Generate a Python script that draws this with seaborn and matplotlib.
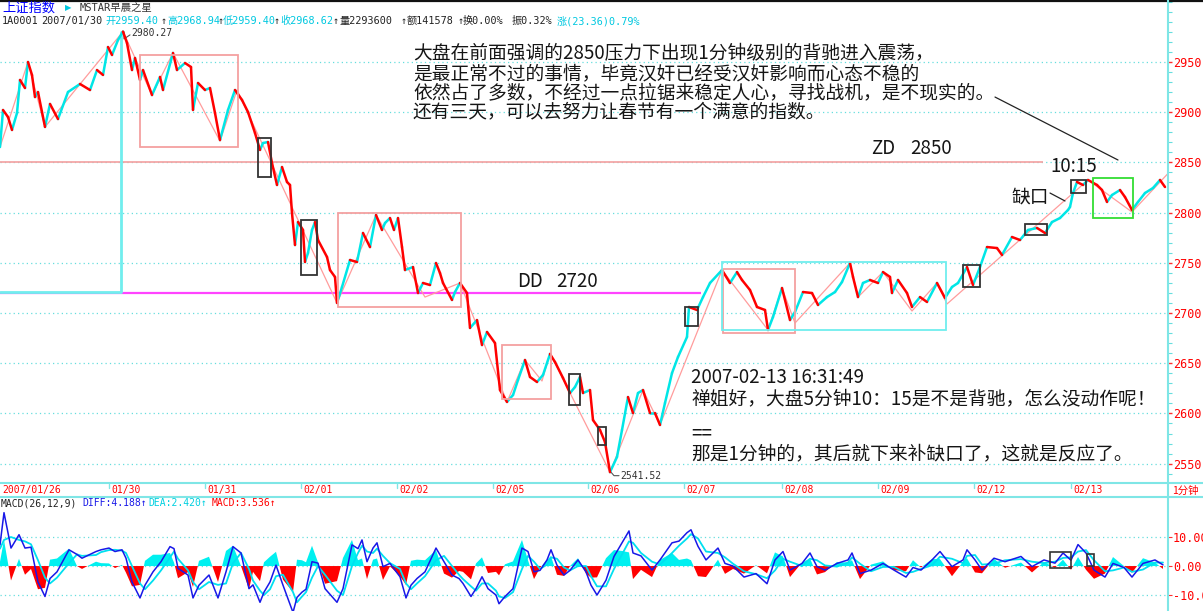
import matplotlib
matplotlib.use("Agg")
import matplotlib.pyplot as plt
from matplotlib.lines import Line2D
from matplotlib.patches import Rectangle
from matplotlib.ticker import MultipleLocator, FormatStrFormatter
import pandas as pd
import seaborn as sns

# ---- price path (1-minute bars, position index along the time axis) ----
price_t = [0, 3, 8, 12, 17, 20, 25, 28, 32, 35, 38, 45, 50, 58, 68, 80, 90, 97, 103, 108,
           112, 118, 123, 127, 132, 135, 140, 143, 152, 160, 163, 173, 177, 185, 191, 193, 198, 205, 210, 215,
           220, 228, 235, 242, 248, 255, 260, 263, 268, 272, 277, 282, 287, 290, 292, 295, 298, 303, 305, 308,
           312, 315, 318, 327, 330, 335, 337, 342, 350, 357, 363, 370, 376, 382, 385, 390, 394, 398, 402, 405,
           413, 418, 423, 430, 436, 440, 443, 452, 455, 460, 467, 470, 477, 482, 487, 495, 500, 507, 513, 518,
           525, 530, 537, 543, 550, 555, 563, 570, 575, 580, 583, 590, 593, 600, 605, 610, 617, 622, 628, 633,
           638, 643, 650, 655, 660, 665, 672, 678, 687, 689, 697, 703, 710, 722, 730, 737, 742, 750, 757, 765,
           768, 773, 782, 790, 795, 803, 812, 818, 827, 835, 842, 850, 853, 858, 863, 870, 878, 883, 890, 892,
           898, 907, 912, 920, 927, 937, 945, 952, 958, 967, 973, 980, 987, 997, 1002, 1012, 1020, 1028, 1037, 1045,
           1052, 1060, 1068, 1070, 1073, 1077, 1083, 1088, 1097, 1102, 1107, 1112, 1120, 1125, 1132, 1138, 1145, 1153, 1160, 1165]
price = [2865.3, 2902.2, 2895.2, 2882.3, 2899.2, 2932.1, 2924.1, 2950.0, 2937.0, 2915.1, 2920.1, 2885.3, 2908.2, 2893.2, 2920.1, 2928.1, 2922.1, 2942.0, 2937.1, 2964.9,
         2957.0, 2971.9, 2980.27, 2968.9, 2942.0, 2954.0, 2932.1, 2942.0, 2917.1, 2935.1, 2922.1, 2959.0, 2942.0, 2949.0, 2945.0, 2902.2, 2929.1, 2922.1, 2924.1, 2899.2,
         2872.3, 2902.2, 2922.1, 2912.2, 2900.2, 2879.3, 2862.4, 2869.3, 2870.3, 2849.4, 2827.5, 2845.4, 2830.5, 2827.5, 2799.6, 2767.7, 2790.6, 2782.7, 2750.8, 2759.8,
         2782.7, 2790.6, 2772.7, 2755.8, 2742.8, 2735.9, 2710.0, 2725.9, 2752.8, 2750.8, 2779.7, 2765.7, 2797.6, 2782.7, 2789.6, 2794.6, 2782.7, 2794.6, 2765.7, 2742.8,
         2745.8, 2719.9, 2729.9, 2727.9, 2749.8, 2739.8, 2729.9, 2713.0, 2720.9, 2729.9, 2719.9, 2685.1, 2693.0, 2668.1, 2681.1, 2670.1, 2623.3, 2611.4, 2618.3, 2633.3,
         2653.2, 2636.3, 2631.3, 2638.3, 2659.2, 2651.2, 2635.3, 2620.3, 2626.3, 2636.3, 2620.3, 2623.3, 2593.4, 2583.5, 2571.5, 2541.52, 2556.6, 2583.5, 2616.3, 2600.4,
         2620.3, 2623.3, 2600.4, 2600.4, 2588.5, 2610.4, 2640.2, 2656.2, 2676.1, 2706.0, 2703.0, 2715.9, 2729.9, 2742.8, 2729.9, 2740.8, 2732.9, 2722.9, 2706.0, 2703.0,
         2683.1, 2696.0, 2724.9, 2693.0, 2701.0, 2720.9, 2719.9, 2708.0, 2715.9, 2720.9, 2730.9, 2749.8, 2735.9, 2715.9, 2729.9, 2732.9, 2729.9, 2740.8, 2735.9, 2719.9,
         2732.9, 2719.9, 2706.0, 2715.9, 2711.0, 2729.9, 2715.0, 2725.9, 2729.9, 2745.8, 2727.9, 2745.8, 2765.7, 2764.7, 2757.8, 2775.7, 2772.7, 2782.7, 2784.7, 2779.7,
         2790.6, 2794.6, 2802.6, 2805.6, 2819.5, 2830.5, 2827.5, 2832.5, 2827.5, 2822.5, 2810.6, 2817.5, 2822.5, 2815.5, 2802.6, 2810.6, 2819.5, 2824.5, 2832.5, 2825.5]

# hand drawn zigzag (pink thin line)
zz_t = [0, 28, 45, 123, 152, 173, 220, 237, 337, 376, 425, 460, 507, 525, 542, 550, 610, 643, 660, 722,
        768, 782, 795, 850, 858, 883, 912, 937, 947, 1088, 1132, 1168]
zz_p = [2865.3, 2950.0, 2885.3, 2980.3, 2917.1, 2959.0, 2871.3, 2922.1, 2710.0, 2797.6, 2715.9, 2729.9, 2611.4, 2653.2, 2632.3, 2660.0, 2541.5, 2623.3, 2588.5, 2742.8,
        2683.1, 2724.9, 2690.0, 2749.8, 2715.9, 2740.8, 2702.0, 2729.9, 2709.0, 2832.5, 2800.6, 2839.0]

# boxes: (t0, t1, low, high, colour)
boxes = [(140, 238, 2865.3, 2957.0, "#f4a0a0"), (338, 461, 2706.0, 2799.6, "#f4a0a0"),
         (502, 551, 2614.3, 2668.1, "#f4a0a0"), (723, 795, 2680.1, 2743.8, "#f4a0a0"),
         (722, 946, 2683.1, 2750.8, "#70eeee"),
         (258, 271, 2835.5, 2874.3, "#333333"), (301, 317, 2737.9, 2792.6, "#333333"),
         (569, 580, 2608.4, 2639.2, "#333333"), (598, 606, 2568.5, 2586.5, "#333333"),
         (685, 698, 2687.1, 2706.0, "#333333"), (963, 980, 2725.9, 2747.8, "#333333"),
         (1025, 1047, 2777.7, 2788.6, "#333333"), (1071, 1086, 2819.5, 2832.5, "#333333"),
         (1093, 1133, 2794.6, 2834.5, "#33dd33")]

price_levels = [2550, 2600, 2650, 2700, 2750, 2800, 2850, 2900, 2950]
date_t = [1, 110, 206, 302, 398, 494, 589, 685, 783, 879, 975, 1072]
date_labels = ["2007/01/26", "01/30", "01/31", "02/01", "02/02", "02/05", "02/06", "02/07",
               "02/08", "02/09", "02/12", "02/13"]

# ---- MACD(26,12,9) ----
macd_t = [0, 4, 11, 19, 25, 31, 38, 45, 50, 57, 69, 77, 82, 96, 101, 109, 115, 122, 126, 132,
          140, 145, 153, 161, 170, 174, 178, 188, 193, 199, 209, 218, 226, 233, 241, 249, 253, 260, 264, 270,
          276, 283, 293, 297, 302, 306, 312, 318, 325, 337, 343, 352, 358, 362, 367, 373, 377, 383, 390, 400,
          406, 411, 417, 425, 436, 444, 452, 459, 463, 471, 476, 482, 488, 496, 499, 505, 513, 522, 528, 534,
          540, 547, 551, 557, 564, 570, 578, 586, 591, 597, 606, 614, 622, 629, 633, 641, 652, 660, 672, 679,
          687, 691, 698, 706, 718, 725, 733, 744, 756, 767, 775, 783, 790, 802, 810, 817, 825, 837, 848, 852,
          860, 871, 883, 894, 906, 913, 921, 932, 940, 952, 963, 967, 975, 982, 994, 1005, 1021, 1032, 1044, 1055,
          1063, 1071, 1078, 1086, 1094, 1105, 1113, 1124, 1132, 1143, 1155, 1163]
diff = [7.3, 18.4, 6.2, 10.8, 6.2, 6.5, -5.5, -10.5, -4.3, -2.0, 5.6, 4.0, 2.7, 5.0, 5.6, 6.2, 5.0, 5.6, 2.7, -5.5,
        -11.0, -6.6, -2.0, 1.5, 6.7, 6.0, -0.8, -3.1, -11.0, -6.6, -3.1, -11.0, -2.0, 6.7, 4.5, -7.8, -6.5, -12.5, -9.0, -5.5,
        0.3, -6.6, -16.0, -10.8, -9.0, -8.0, 1.5, 1.0, -7.8, -12.5, -7.8, 7.3, 6.0, 9.0, 1.5, 6.2, 8.0, -0.2, 0.9, -3.7,
        -11.0, -6.6, -4.3, -2.0, 6.2, 1.5, -3.1, -4.3, -6.0, -10.5, -7.8, -3.7, -7.8, -10.0, -13.0, -10.5, -7.8, 6.2, 5.0, -2.0,
        -1.5, 2.1, 5.6, 0.3, -3.1, -1.5, 2.1, -2.0, -6.6, -10.0, -4.9, 3.3, 8.0, 12.1, 4.5, 3.5, -1.4, 2.1, 8.0, 8.6,
        11.5, 12.5, 6.8, 2.1, 6.2, 0.9, 0.0, -3.8, -2.6, -6.1, 2.1, 5.0, -1.4, 0.9, 4.5, -0.2, -1.4, 0.9, 2.1, 4.5,
        -2.6, -1.4, 0.9, -1.4, -3.8, -0.5, -1.4, 2.1, 5.0, -0.2, 2.1, 5.6, 2.1, -1.4, 2.7, 1.5, 3.3, -0.2, 2.1, 1.0,
        4.5, 2.0, 7.4, 4.5, -1.4, -3.8, 0.9, -0.5, -3.8, 0.9, 2.1, 0.4]
dea = [6.0, 9.0, 10.0, 9.0, 8.5, 7.5, 2.0, -4.0, -6.0, -4.0, 1.0, 4.0, 3.5, 3.8, 4.8, 5.5, 5.6, 5.3, 4.5, 0.0,
       -6.0, -8.0, -5.0, -1.5, 3.0, 5.0, 2.5, -1.5, -5.5, -8.0, -5.5, -6.5, -6.0, 1.0, 4.5, -1.0, -5.0, -8.5, -10.0, -8.0,
       -3.5, -3.0, -9.0, -12.5, -10.5, -9.0, -4.0, 0.0, -3.0, -8.5, -10.0, 0.0, 4.5, 7.0, 5.0, 4.5, 6.0, 3.5, 1.0, -1.0,
       -6.0, -8.0, -6.0, -3.5, 2.0, 3.5, 0.0, -3.0, -4.5, -7.0, -8.5, -6.0, -6.0, -8.5, -10.5, -11.0, -9.0, -1.0, 3.5, 1.5,
       -1.0, 0.5, 3.0, 2.5, -0.5, -1.5, 0.0, 0.0, -3.5, -7.0, -7.0, -1.0, 4.0, 8.5, 8.0, 4.5, 1.5, 0.5, 4.5, 7.0,
       9.5, 11.0, 9.5, 5.0, 4.5, 3.0, 0.8, -1.8, -2.8, -4.2, -1.5, 2.5, 1.5, 0.0, 2.5, 2.0, 0.2, -0.2, 1.2, 3.0,
       0.8, -1.8, -0.3, -0.3, -2.4, -2.0, -1.0, 0.3, 3.2, 2.5, 1.0, 3.5, 3.8, 0.5, 0.8, 2.0, 2.4, 1.5, 1.0, 1.5,
       2.8, 3.0, 5.0, 5.5, 2.0, -1.8, -1.5, -0.5, -2.0, -1.2, 1.2, 1.2]
macd_bar = [1.5, 9.0, -5.0, 2.5, -3.0, -1.0, -8.0, -7.5, 2.2, 2.6, 6.0, 0.0, -1.0, 1.5, 1.0, 0.9, -0.7, 0.4, -2.3, -7.0,
            -6.5, 1.8, 3.9, 3.9, 4.5, 1.2, -4.2, -2.1, -7.2, 1.8, 3.2, -5.5, 5.2, 7.0, 0.0, -8.0, -2.0, -5.2, 1.3, 3.2,
            4.9, -4.7, -9.0, 2.2, 2.0, 1.3, 7.0, 1.3, -6.1, -5.2, 2.8, 9.0, 2.0, 2.6, -4.5, 2.2, 2.6, -4.8, -0.1, -3.5,
            -6.5, 1.8, 2.2, 2.0, 5.5, -2.6, -4.0, -1.7, -2.0, -4.6, 0.9, 3.0, -2.4, -2.0, -3.2, 0.6, 1.6, 9.0, 2.0, -4.5,
            -0.6, 2.1, 3.4, -3.0, -3.4, 0.0, 2.7, -2.6, -4.0, -3.9, 2.7, 5.5, 5.2, 4.7, -4.5, -1.3, -3.8, 2.1, 4.5, 2.1,
            2.6, 2.0, -3.5, -3.8, 2.2, -2.7, -1.0, -2.6, 0.3, -2.5, 4.7, 3.3, -3.8, 1.2, 2.6, -2.9, -2.1, 1.4, 1.2, 2.0,
            -4.5, 0.5, 1.6, -1.4, -1.8, 2.0, -0.5, 2.4, 2.4, -3.5, 1.4, 2.7, -2.2, -2.5, 2.5, -0.6, 1.2, -2.2, 1.4, -0.6,
            2.2, -1.3, 3.1, -1.3, -4.4, -2.6, 3.1, 0.0, -2.3, 2.7, 1.2, -1.0]
macd_boxes = [(1050, 1071, -0.7, 4.8), (1087, 1094, 0.0, 4.1)]

W, H = 1203, 611
CJK = ["Noto Sans CJK SC", "DejaVu Sans"]
MONO = ["DejaVu Sans Mono", "Noto Sans CJK SC"]

sns.set_style("white")
plt.rcParams["font.family"] = ["DejaVu Sans", "Noto Sans CJK SC"]
plt.rcParams["axes.unicode_minus"] = False

fig = plt.figure(figsize=(W / 100, H / 100), dpi=100)
ax = fig.add_axes([0, 1 - 483 / H, 1168 / W, 483 / H])
axm = fig.add_axes([0, 0, 1168 / W, 114 / H])


def ftxt(x, y, s, **kw):
    kw.setdefault("va", "center")
    kw.setdefault("ha", "left")
    fig.text(x / W, 1 - y / H, s, **kw)


def fline(xs, ys, **kw):
    fig.add_artist(Line2D([x / W for x in xs], [1 - y / H for y in ys], **kw))


# ---- main price panel ----
ax.hlines(price_levels, 0, 1168, colors="#66dede", linestyles=(0, (1, 2.5)), lw=0.9, zorder=0)
ax.hlines(2850, 0, 1043, colors="#f4a0a0", lw=1.2, zorder=1)
ax.hlines(2720, 0, 701, colors="#ff44ff", lw=1.6, zorder=1)
ax.plot([121, 121, 0], [2980, 2720.9, 2720.9], color="#70eeee", lw=2, zorder=1)

sns.lineplot(x=zz_t, y=zz_p, sort=False, estimator=None, color="#ff9c9c", lw=0.9, ax=ax, zorder=2)

rows = []
for i in range(len(price) - 1):
    d = "up" if price[i + 1] >= price[i] else "down"
    rows.append((i, d, price_t[i], price[i]))
    rows.append((i, d, price_t[i + 1], price[i + 1]))
seg = pd.DataFrame(rows, columns=["seg", "dir", "t", "p"])
sns.lineplot(data=seg, x="t", y="p", hue="dir", units="seg", estimator=None, sort=False,
             palette={"up": "#00e6e6", "down": "#ff0000"}, lw=1.8, legend=False, ax=ax, zorder=3)

for t0, t1, lo, hi, c in boxes:
    ax.add_patch(Rectangle((t0, lo), t1 - t0, hi - lo, fill=False, ec=c, lw=1.3, zorder=4))

# leader lines
ax.plot([995, 1118], [2915.1, 2852.4], color="#222222", lw=0.9)
ax.plot([1050, 1065], [2819.5, 2811.6], color="#222222", lw=0.9)
ax.plot([124, 124, 130], [2980, 2973, 2977], color="#555555", lw=0.8)
ax.plot([611, 614, 619], [2541.5, 2538.0, 2538.0], color="#555555", lw=0.8)

ax.set_xlim(0, 1168)
ax.set_ylim(2530.7, 3011.75)
ax.set_xlabel("")
ax.set_ylabel("")
ax.set_xticks([])
for s in ax.spines.values():
    s.set_visible(False)
ax.set_yticks(price_levels)
ax.yaxis.set_major_formatter(FormatStrFormatter("%.2f"))
ax.yaxis.set_minor_locator(MultipleLocator(10))
ax.tick_params(axis="y", which="major", left=False, labelleft=False, right=True, labelright=True,
               direction="out", length=3, width=1, color="#ff3030", labelcolor="#ff0000",
               labelsize=8.5, pad=0.5)
ax.tick_params(axis="y", which="minor", left=False, right=True, direction="out",
               length=3, width=0.8, color="#66dede")
for lb in ax.get_yticklabels():
    lb.set_fontfamily("DejaVu Sans Mono")

# ---- MACD panel ----
axm.hlines([-10, 0, 10], 0, 1168, colors="#66dede", linestyles=(0, (1, 2.5)), lw=0.9, zorder=0)
axm.fill_between(macd_t, macd_bar, 0, where=[v >= 0 for v in macd_bar], interpolate=True,
                 color="#00f0f0", lw=0, zorder=1)
axm.fill_between(macd_t, macd_bar, 0, where=[v < 0 for v in macd_bar], interpolate=True,
                 color="#ff0000", lw=0, zorder=1)
sns.lineplot(x=macd_t, y=dea, sort=False, estimator=None, color="#00e0f0", lw=1.3, ax=axm, zorder=2)
sns.lineplot(x=macd_t, y=diff, sort=False, estimator=None, color="#1818e8", lw=1.1, ax=axm, zorder=3)
for t0, t1, lo, hi in macd_boxes:
    axm.add_patch(Rectangle((t0, lo), t1 - t0, hi - lo, fill=False, ec="#333333", lw=1.2, zorder=4))
axm.set_xlim(0, 1168)
axm.set_ylim(-15.5, 23.8)
axm.set_xlabel("")
axm.set_ylabel("")
axm.set_xticks([])
for s in axm.spines.values():
    s.set_visible(False)
axm.set_yticks([-10, 0, 10])
axm.yaxis.set_major_formatter(FormatStrFormatter("%.2f"))
axm.tick_params(axis="y", left=False, labelleft=False, right=True, labelright=True, direction="out",
                length=3, color="#ff3030", labelcolor="#ff0000", labelsize=8.5, pad=0.5)
for lb in axm.get_yticklabels():
    lb.set_fontfamily("DejaVu Sans Mono")

# ---- frame lines ----
fline([0, W], [0.8, 0.8], color="#111111", lw=1.6)
fline([1168, 1168], [0, H], color="#7fe6e6", lw=1.5)
fline([0, W], [483, 483], color="#7fe6e6", lw=1.5)
fline([0, W], [497, 497], color="#7fe6e6", lw=1.5)

# date strip
for t, lab in zip(date_t, date_labels):
    ftxt(t + 1, 490.5, lab, color="#ff0000", fontsize=7, family=MONO)
    if t > 5:
        fline([t - 1, t - 1], [484, 488], color="#7fe6e6", lw=1)
ftxt(1172, 490.5, "1分钟", color="#ff0000", fontsize=7.5, family=CJK)

# header
ftxt(2, 8, "上证指数", color="#0000ff", fontsize=9.5, family=CJK)
ftxt(65, 8, "▶", color="#00c8e0", fontsize=6, family=["DejaVu Sans"])
ftxt(80, 8, "MSTAR早晨之星", color="#333333", fontsize=7.5, family=MONO)
header = [(2, "1A0001", "#222222"), (41, "2007/01/30", "#222222"),
          (105, "开2959.40", "#00c8e0"), (161, "↑", "#222222"),
          (167, "高2968.94", "#00c8e0"), (218, "↑", "#222222"),
          (223, "低2959.40", "#00c8e0"), (274, "↑", "#222222"),
          (280, "收2968.62", "#00c8e0"), (333, "↑", "#222222"),
          (340, "量2293600", "#222222"), (401, "↑", "#222222"),
          (407, "额141578", "#222222"), (458, "↑", "#222222"),
          (463, "换0.00%", "#222222"), (512, "振0.32%", "#222222"),
          (557, "涨(23.36)0.79%", "#00c8e0")]
for x, s, c in header:
    ftxt(x, 21, s, color=c, fontsize=7.3, family=MONO)

# MACD header
macd_head = [(1, "MACD(26,12,9)", "#222222"), (82, "DIFF:4.188↑", "#1818e8"),
             (148, "DEA:2.420↑", "#00d0e0"), (212, "MACD:3.536↑", "#ff0000")]
for x, s, c in macd_head:
    ftxt(x, 503.5, s, color=c, fontsize=7, family=MONO)

# value labels
ftxt(131, 32.5, "2980.27", color="#333333", fontsize=7, family=MONO)
ftxt(620, 476, "2541.52", color="#333333", fontsize=7, family=MONO)

# annotations
TXT = dict(color="#151515", fontsize=13.5, family=CJK)
notes = ["大盘在前面强调的2850压力下出现1分钟级别的背驰进入震荡，",
         "是最正常不过的事情，毕竟汉奸已经受汉奸影响而心态不稳的",
         "依然占了多数，不经过一点拉锯来稳定人心，寻找战机，是不现实的。",
         "还有三天，可以去努力让春节有一个满意的指数。"]
for k, line in enumerate(notes):
    ftxt(413, 54 + k * 19.3, line, **TXT)

reply = [(377.5, "2007-02-13 16:31:49"), (398.5, "禅姐好，大盘5分钟10：15是不是背驰，怎么没动作呢！"),
         (434, "=="), (453.5, "那是1分钟的，其后就下来补缺口了，这就是反应了。")]
for y, line in reply:
    ftxt(691, y, line, **TXT)

ftxt(871, 148, "ZD", **TXT)
ftxt(910, 148, "2850", **TXT)
ftxt(517, 281.5, "DD", **TXT)
ftxt(556, 281.5, "2720", **TXT)
ftxt(1050, 167, "10:15", **TXT)
ftxt(1011, 197.5, "缺口", **TXT)

fig.savefig("out.png", dpi=100)
